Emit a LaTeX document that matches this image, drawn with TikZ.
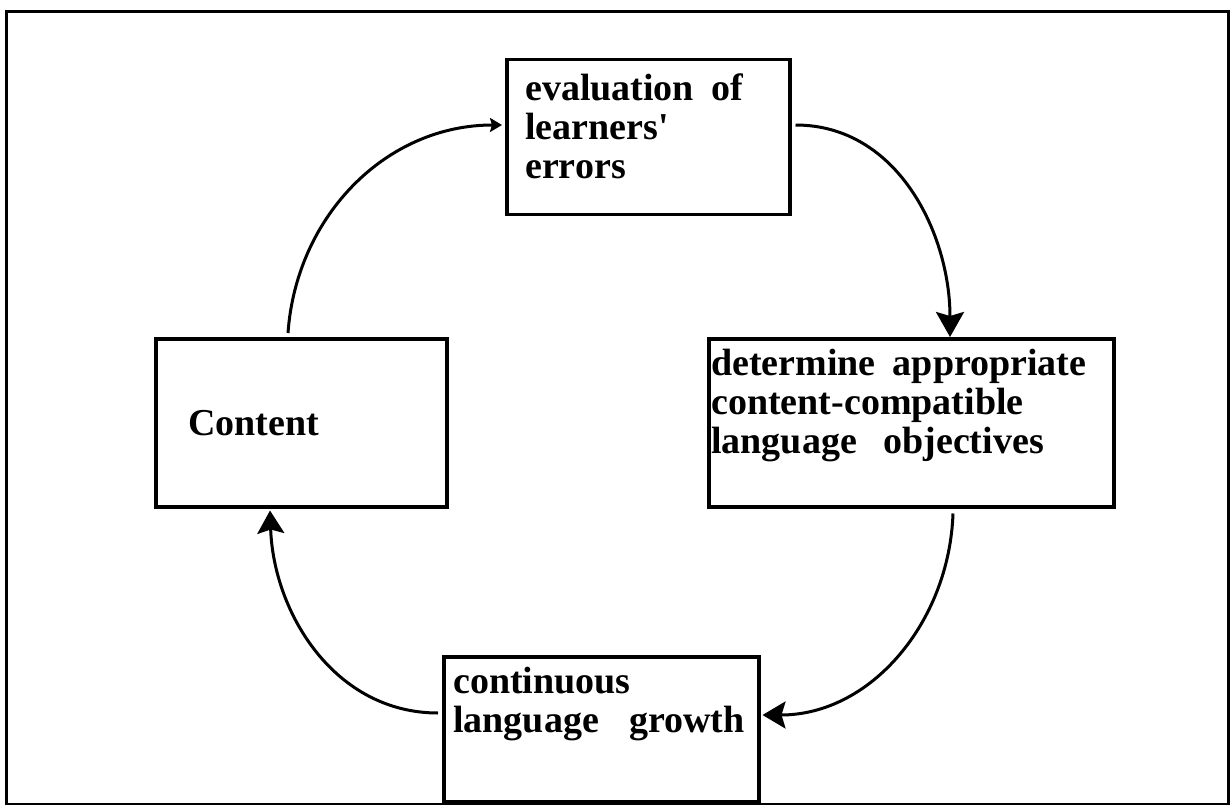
\documentclass[tikz,border=0pt]{standalone}
\usepackage{fontspec}
\setmainfont{Liberation Serif}
\usetikzlibrary{arrows.meta}
\begin{document}
\begin{tikzpicture}[x=1pt,y=-1pt,
  frame/.style={draw,line width=3pt,anchor=north west,inner sep=0pt},
  box/.style={draw,line width=3.5pt,anchor=north west,inner sep=0pt},
  lbl/.style={anchor=base west,inner sep=0pt,font=\fontsize{38}{39}\selectfont\bfseries},
  conn/.style={line width=3pt},
  headS/.style={-{Stealth[length=12pt,width=14pt,inset=2pt]}},
  headL/.style={-{Stealth[length=25pt,width=28pt,inset=4pt]}},
  headM/.style={-{Stealth[length=23pt,width=27pt,inset=4pt]}}
]
\useasboundingbox (0,0) rectangle (1232,805);
\node[frame, minimum width=1222pt, minimum height=793pt] (outer) at (5,10) {};
% boxes
\node[box, minimum width=283pt, minimum height=155pt] (eval) at (505,58) {};
\node[box, minimum width=405pt, minimum height=168pt] (det) at (707,337) {};
\node[box, minimum width=291pt, minimum height=168pt] (cont) at (154,337) {};
\node[box, minimum width=315pt, minimum height=145pt] (grow) at (442,655) {};
% texts
\node[lbl] (evalt) at (525,101) {\begin{tabular}[t]{@{}l@{}}evaluation\hspace{0.47em}of\\learners\textquotesingle\\errors\end{tabular}};
\node[lbl] (dett) at (711,375) {\begin{tabular}[t]{@{}l@{}}determine\hspace{0.45em}appropriate\\content-compatible\\language\hspace{0.7em}objectives\end{tabular}};
\node[lbl] (contt) at (188,435) {Content};
\node[lbl] (growt) at (453,693) {\begin{tabular}[t]{@{}l@{}}continuous\\language\hspace{0.8em}growth\end{tabular}};
% connectors
\draw[conn,headS] ([xshift=134pt,yshift=4pt]cont.north west) to[out=86,in=180] ([xshift=-3pt,yshift=-67pt]eval.north west);
\draw[conn,headL] ([xshift=4pt,yshift=-67pt]eval.north east) to[out=0,in=90] ([xshift=243pt]det.north west);
\draw[conn,headM] ([xshift=246pt,yshift=-5pt]det.south west) to[out=-92,in=0] ([xshift=2pt,yshift=-60pt]grow.north east);
\draw[conn,headM] ([xshift=-4pt,yshift=-58pt]grow.north west) to[out=180,in=-88] ([xshift=116pt,yshift=-2pt]cont.south west);
\end{tikzpicture}
\end{document}
